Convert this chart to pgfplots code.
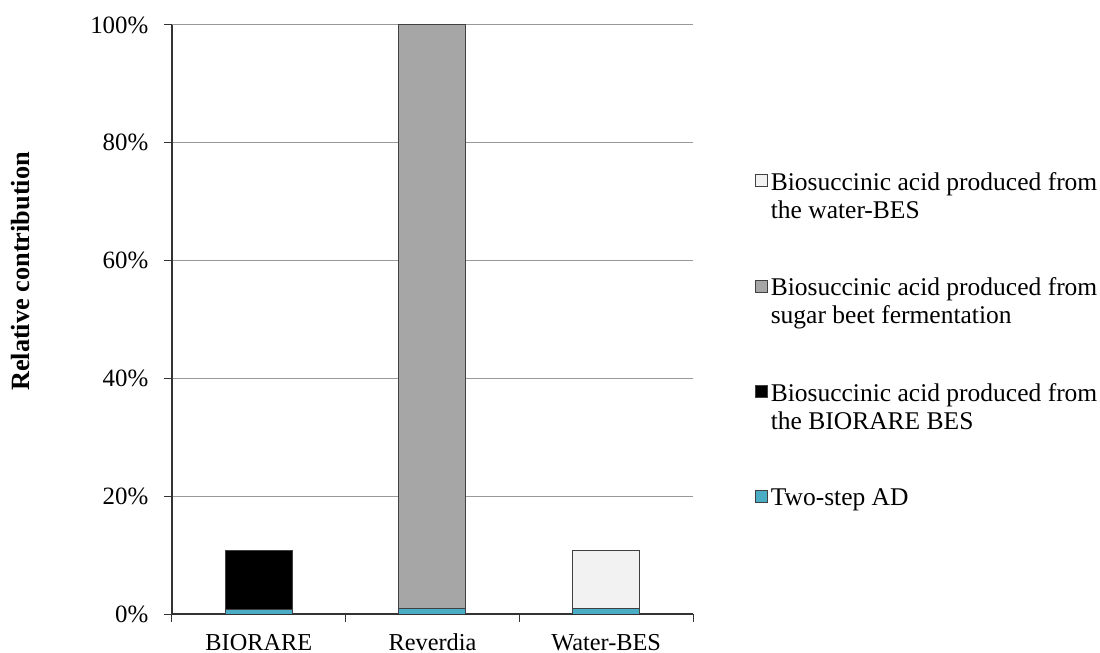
\documentclass[border=0pt]{standalone}
\usepackage{fontspec}
\setmainfont{Liberation Serif}
\usepackage{pgfplots}
\pgfplotsset{compat=1.18}

\definecolor{adteal}{HTML}{4BACC6}
\definecolor{beetgray}{HTML}{A6A6A6}
\definecolor{waterlight}{HTML}{F2F2F2}

\begin{document}
\begin{tikzpicture}
  \begin{axis}[
      scale only axis,
      width=260.5bp,
      height=294.5bp,
      ybar stacked,
      bar width=33.5bp,
      xmin=-0.5, xmax=2.5,
      ymin=0, ymax=100,
      axis lines*=left,
      axis line style={black!80, line width=0.6bp},
      tick align=outside,
      xtick={0,1,2},
      xticklabels={BIORARE, Reverdia, Water-BES},
      major x tick style={draw=none},
      minor xtick={-0.5,0.5,1.5,2.5},
      minor tick length=4bp,
      major tick length=4bp,
      tick style={black!80, line width=0.5bp},
      ytick={0,20,...,100},
      yticklabel={\pgfmathprintnumber{\tick}\%},
      /pgf/number format/assume math mode=true,
      ymajorgrids=true,
      grid style={black!40, line width=0.5bp},
      ticklabel style={font=\fontsize{12.5}{14}\selectfont},
      yticklabel style={xshift=-4.3bp},
      xticklabel style={text height=8.3bp, yshift=-2.3bp,
        font=\fontsize{12.2}{14}\selectfont},
      ylabel={\textbf{Relative contribution}},
      ylabel style={at={(axis description cs:-0.2908,0.5815)}, anchor=center,
        font=\fontsize{13.2}{15}\selectfont},
      every axis plot post/.append style={
        draw=black!75, line width=0.5bp,
        legend image code/.code={
          \path (0bp,0bp);
          \draw[##1, line width=0.4bp] (0bp,-9.25bp) rectangle (6bp,-3.25bp);}},
      reverse legend,
      legend style={
        at={(1.1171,0.7586)}, anchor=north west,
        draw=none, fill=none, inner sep=0pt,
        font=\fontsize{12.8}{14}\selectfont,
        cells={anchor=north west},
        nodes={align=left, text depth=3bp, inner xsep=1.75bp, inner ysep=2bp},
        row sep=22.3bp},
    ]

    \addplot[fill=adteal] coordinates {(0,0.7) (1,1.0) (2,1.0)};
    \addplot[fill=black] coordinates {(0,10.1) (1,0) (2,0)};
    \addplot[fill=beetgray] coordinates {(0,0) (1,99.0) (2,0)};
    \addplot[fill=waterlight] coordinates {(0,0) (1,0) (2,9.75)};

    \legend{Two-step AD,
      Biosuccinic acid produced from\\the BIORARE BES,
      Biosuccinic acid produced from\\sugar beet fermentation,
      Biosuccinic acid produced from\\the water-BES}

    \coordinate (sw) at (rel axis cs:0,0);
    \coordinate (ne) at (rel axis cs:1,1);
  \end{axis}
  \pgfresetboundingbox
  \path ([shift={(-86bp,-19.5bp)}]sw) rectangle ([shift={(203.5bp,12.5bp)}]ne);
\end{tikzpicture}
\end{document}
